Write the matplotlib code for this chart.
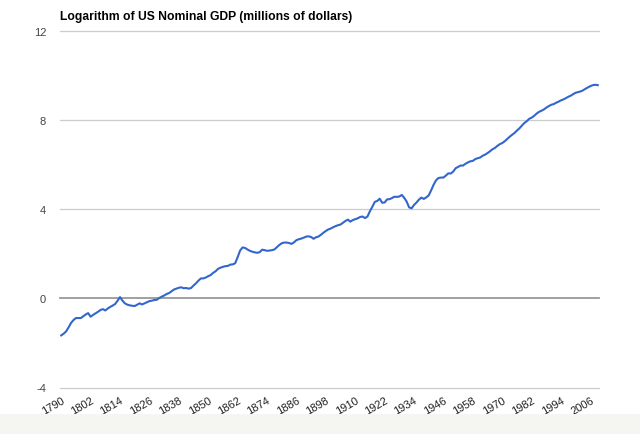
import matplotlib
matplotlib.use("Agg")
import matplotlib.pyplot as plt
from matplotlib.patches import Rectangle

start_year = 1790
log_gdp = [
    # 1790-1799
    -1.66, -1.58, -1.48, -1.30, -1.10, -0.97, -0.88, -0.88, -0.88, -0.80,
    # 1800-1809
    -0.72, -0.66, -0.82, -0.74, -0.67, -0.60, -0.52, -0.48, -0.54, -0.45,
    # 1810-1819
    -0.38, -0.32, -0.25, -0.10, 0.06, -0.10, -0.22, -0.28, -0.31, -0.33,
    # 1820-1829
    -0.34, -0.28, -0.22, -0.27, -0.22, -0.17, -0.12, -0.10, -0.07, -0.06,
    # 1830-1839
    0.02, 0.08, 0.13, 0.20, 0.24, 0.32, 0.40, 0.44, 0.48, 0.50,
    # 1840-1849
    0.46, 0.47, 0.44, 0.47, 0.58, 0.68, 0.80, 0.90, 0.90, 0.94,
    # 1850-1859
    1.00, 1.05, 1.15, 1.22, 1.33, 1.38, 1.42, 1.45, 1.46, 1.52,
    # 1860-1869
    1.53, 1.58, 1.85, 2.15, 2.29, 2.27, 2.20, 2.14, 2.10, 2.07,
    # 1870-1879
    2.05, 2.08, 2.19, 2.17, 2.14, 2.15, 2.17, 2.20, 2.30, 2.40,
    # 1880-1889
    2.48, 2.51, 2.51, 2.49, 2.45, 2.52, 2.62, 2.66, 2.69, 2.73,
    # 1890-1899
    2.78, 2.79, 2.76, 2.68, 2.75, 2.78, 2.86, 2.95, 3.03, 3.10,
    # 1900-1909
    3.14, 3.20, 3.25, 3.29, 3.32, 3.40, 3.48, 3.54, 3.45, 3.52,
    # 1910-1919
    3.56, 3.60, 3.66, 3.68, 3.61, 3.68, 3.92, 4.12, 4.34, 4.38,
    # 1920-1929
    4.48, 4.30, 4.31, 4.45, 4.46, 4.51, 4.57, 4.56, 4.58, 4.65,
    # 1930-1939
    4.52, 4.35, 4.09, 4.05, 4.20, 4.31, 4.44, 4.53, 4.47, 4.54,
    # 1940-1949
    4.63, 4.86, 5.11, 5.31, 5.41, 5.43, 5.43, 5.52, 5.62, 5.61,
    # 1950-1959
    5.70, 5.85, 5.91, 5.97, 5.97, 6.05, 6.11, 6.16, 6.18, 6.26,
    # 1960-1969
    6.30, 6.33, 6.41, 6.46, 6.53, 6.61, 6.70, 6.76, 6.85, 6.93,
    # 1970-1979
    6.98, 7.06, 7.16, 7.26, 7.35, 7.43, 7.54, 7.64, 7.76, 7.88,
    # 1980-1989
    7.96, 8.07, 8.12, 8.20, 8.30, 8.38, 8.43, 8.49, 8.57, 8.64,
    # 1990-1999
    8.70, 8.73, 8.79, 8.84, 8.90, 8.94, 9.00, 9.06, 9.11, 9.18,
    # 2000-2009
    9.24, 9.27, 9.30, 9.35, 9.42, 9.48, 9.54, 9.58, 9.60, 9.58,
]
years = list(range(start_year, start_year + len(log_gdp)))
x_tick_years = list(range(1790, 2007, 12))
y_ticks = [-4, 0, 4, 8, 12]
title = "Logarithm of US Nominal GDP (millions of dollars)"

plt.rcParams['font.family'] = ['Liberation Sans', 'DejaVu Sans']

W, H = 640, 435
fig = plt.figure(figsize=(W / 100, H / 100), dpi=100)
fig.patch.set_facecolor("white")

# bottom light band
fig.patches.append(Rectangle((0, 0), 1, 20 / H, transform=fig.transFigure,
                             facecolor="#f5f5f2", edgecolor="none", zorder=0))

left, right = 60 / W, 599 / W
bottom, top = (H - 388.5) / H, (H - 32.3) / H
ax = fig.add_axes([left, bottom, right - left, top - bottom])
ax.set_facecolor("none")

ax.plot(years, log_gdp, color="#3366cc", linewidth=1.5, solid_joinstyle="round",
        zorder=3)

ax.set_xlim(years[0] - 0.5, years[-1] + 0.5)
ax.set_ylim(-4, 12)
ax.set_yticks(y_ticks)
ax.set_yticklabels([str(v) for v in y_ticks])
for v in y_ticks:
    if v == 0:
        ax.axhline(v, color="#999999", linewidth=1.3, zorder=2, clip_on=False)
    else:
        ax.axhline(v, color="#cccccc", linewidth=0.9, zorder=1, clip_on=False)

ax.set_xticks(x_tick_years)
ax.set_xticklabels([str(y) for y in x_tick_years], rotation=30, ha="right",
                   va="top", rotation_mode="anchor")
for s in ax.spines.values():
    s.set_visible(False)
ax.tick_params(axis="y", length=0, pad=10, labelsize=8, labelcolor="#444444")
ax.tick_params(axis="x", length=0, pad=5, labelsize=8, labelcolor="#222222")

fig.text(60 / W, 1 - 20 / H, title, fontsize=8.7, fontweight="bold",
         color="#000000", ha="left", va="baseline")

fig.savefig("out.png", dpi=100)
